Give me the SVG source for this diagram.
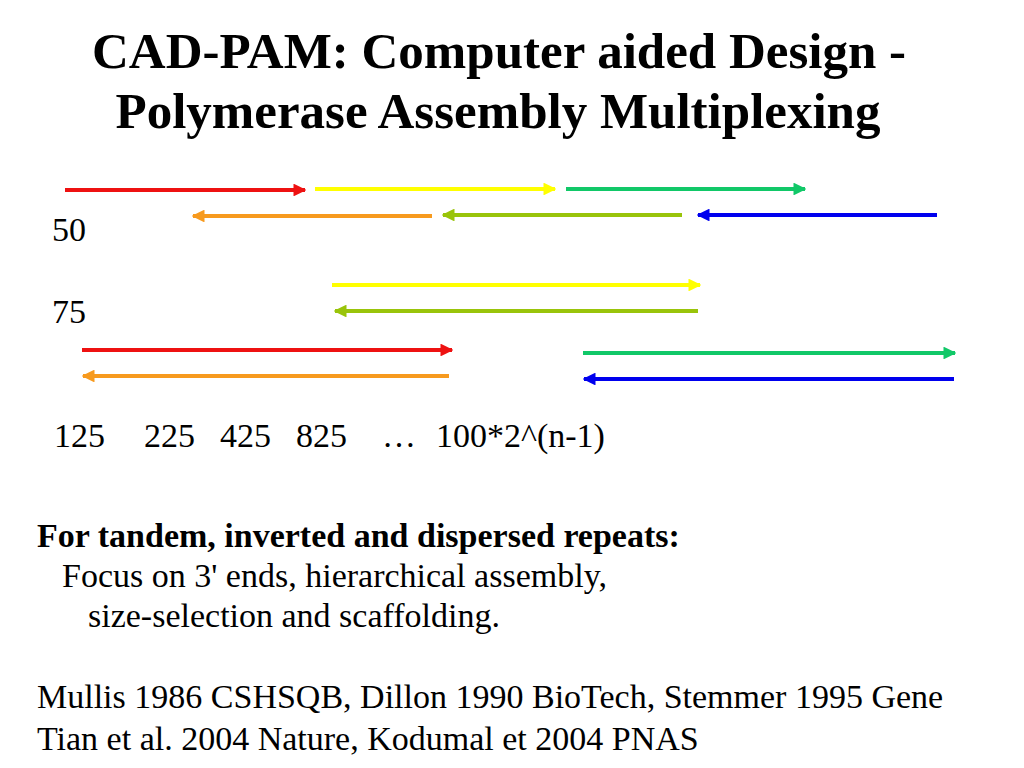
<svg xmlns="http://www.w3.org/2000/svg" width="1024" height="768" viewBox="0 0 1024 768">
<style>
.t{font-family:"Liberation Serif","Times New Roman",serif;fill:#000}
.title{font-size:51px;font-weight:bold;text-anchor:middle}
.b{font-size:34px}
.bb{font-size:34px;font-weight:bold}
.a{stroke-width:4;fill:none}
</style>
<defs>
<marker id="hR" viewBox="0 0 10 10" refX="9" refY="5" markerWidth="3.2" markerHeight="3.2" orient="auto"><path d="M0,0L10,5L0,10z" fill="#EE1111"/></marker>
<marker id="hY" viewBox="0 0 10 10" refX="9" refY="5" markerWidth="3.2" markerHeight="3.2" orient="auto"><path d="M0,0L10,5L0,10z" fill="#FFFF00"/></marker>
<marker id="hG" viewBox="0 0 10 10" refX="9" refY="5" markerWidth="3.2" markerHeight="3.2" orient="auto"><path d="M0,0L10,5L0,10z" fill="#11C868"/></marker>
<marker id="hO" viewBox="0 0 10 10" refX="9" refY="5" markerWidth="3.2" markerHeight="3.2" orient="auto"><path d="M0,0L10,5L0,10z" fill="#F79A1E"/></marker>
<marker id="hL" viewBox="0 0 10 10" refX="9" refY="5" markerWidth="3.2" markerHeight="3.2" orient="auto"><path d="M0,0L10,5L0,10z" fill="#99C40A"/></marker>
<marker id="hB" viewBox="0 0 10 10" refX="9" refY="5" markerWidth="3.2" markerHeight="3.2" orient="auto"><path d="M0,0L10,5L0,10z" fill="#0000EE"/></marker>
</defs>
<g id="title" class="t title">
<text x="499" y="68">CAD-PAM: Computer aided Design -</text>
<text x="498" y="128">Polymerase Assembly Multiplexing</text>
</g>
<g id="connectors">
<line class="a" x1="65" y1="190" x2="305" y2="190" stroke="#EE1111" marker-end="url(#hR)"/>
<line class="a" x1="315" y1="189" x2="555" y2="189" stroke="#FFFF00" marker-end="url(#hY)"/>
<line class="a" x1="566" y1="189" x2="805" y2="189" stroke="#11C868" marker-end="url(#hG)"/>
<line class="a" x1="432" y1="216" x2="193" y2="216" stroke="#F79A1E" marker-end="url(#hO)"/>
<line class="a" x1="682" y1="215" x2="443" y2="215" stroke="#99C40A" marker-end="url(#hL)"/>
<line class="a" x1="937" y1="215" x2="698" y2="215" stroke="#0000EE" marker-end="url(#hB)"/>
<line class="a" x1="332" y1="285" x2="700" y2="285" stroke="#FFFF00" marker-end="url(#hY)"/>
<line class="a" x1="698" y1="311" x2="335" y2="311" stroke="#99C40A" marker-end="url(#hL)"/>
<line class="a" x1="82" y1="350" x2="452" y2="350" stroke="#EE1111" marker-end="url(#hR)"/>
<line class="a" x1="449" y1="376" x2="83" y2="376" stroke="#F79A1E" marker-end="url(#hO)"/>
<line class="a" x1="583" y1="353" x2="955" y2="353" stroke="#11C868" marker-end="url(#hG)"/>
<line class="a" x1="954" y1="379" x2="584" y2="379" stroke="#0000EE" marker-end="url(#hB)"/>
</g>
<g id="labels" class="t b">
<text x="52" y="241">50</text>
<text x="52" y="323">75</text>
<text y="447"><tspan x="54">125</tspan><tspan x="144">225</tspan><tspan x="220">425</tspan><tspan x="296">825</tspan><tspan x="382">…</tspan><tspan x="436">100*2^(n-1)</tspan></text>
</g>
<g id="notes" class="t">
<text class="bb" x="37" y="547">For tandem, inverted and dispersed repeats:</text>
<text class="b" x="62" y="587">Focus on 3' ends, hierarchical assembly,</text>
<text class="b" x="88" y="627">size-selection and scaffolding.</text>
<text class="b" x="37" y="708">Mullis 1986 CSHSQB, Dillon 1990 BioTech, Stemmer 1995 Gene</text>
<text class="b" x="37" y="750">Tian et al. 2004 Nature, Kodumal et 2004 PNAS</text>
</g>
</svg>
